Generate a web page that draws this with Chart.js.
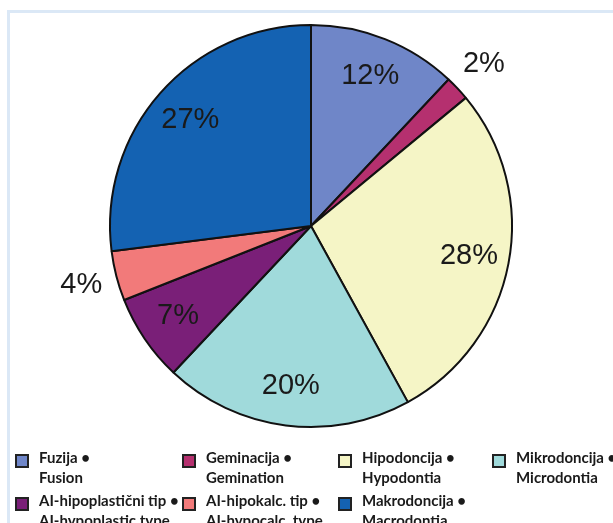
<!DOCTYPE html>
<html>
<head>
<meta charset="utf-8">
<script src="https://cdn.jsdelivr.net/npm/chart.js@4"></script>
<style>
    html, body {
        margin: 0;
        padding: 0;
        background: #ffffff;
        width: 613px;
        height: 523px;
        overflow: hidden;
    }
    .frame {
        position: absolute;
        left: 7px;
        top: 10px;
        width: 700px;
        height: 600px;
        border-left: 3px solid #dbe8f6;
        border-top: 3px solid #dbe8f6;
    }
    #pie-chart {
        position: absolute;
        left: 0;
        top: 0;
    }
    .legend-item {
        position: absolute;
        font-family: Lato, "Open Sans", sans-serif;
        font-weight: bold;
        font-size: 15px;
        line-height: 20px;
        color: #1a1a1a;
        white-space: nowrap;
    }
    .legend-box {
        position: absolute;
        left: 0;
        top: 7px;
        width: 10px;
        height: 10px;
        border: 2px solid #222222;
    }
    .legend-text {
        position: absolute;
        left: 24px;
        top: 0;
    }
</style>
</head>
<body>
<div class="frame"></div>
<canvas id="pie-chart" width="613" height="450"></canvas>
<div id="legend"></div>

<script>
// Chart data
const labelsHr = ['Fuzija', 'Geminacija', 'Hipodoncija', 'Mikrodoncija', 'AI-hipoplastični tip', 'AI-hipokalc. tip', 'Makrodoncija'];
const labelsEn = ['Fusion', 'Gemination', 'Hypodontia', 'Microdontia', 'AI-hypoplastic type', 'AI-hypocalc. type', 'Macrodontia'];
const percentages = [12, 2, 28, 20, 7, 4, 27];
const sliceColors = ['#6f86c8', '#b5306f', '#f5f5c6', '#a0dadb', '#7a1f78', '#f27a7a', '#1462b2'];

// legend grid: 4 columns, 2 rows
const legendCols = [15, 182, 338, 492];
const legendRows = [447, 490];

// Percent labels, small slices get their label outside the pie
const percentLabels = {
    id: 'percentLabels',
    afterDatasetsDraw(chart) {
        const ctx = chart.ctx;
        const meta = chart.getDatasetMeta(0);
        ctx.save();
        ctx.font = '29px "Liberation Sans", Arial, sans-serif';
        ctx.fillStyle = '#1a1a1a';
        ctx.textAlign = 'center';
        ctx.textBaseline = 'middle';
        meta.data.forEach((arc, i) => {
            const p = arc.getProps(['x', 'y', 'startAngle', 'endAngle', 'outerRadius'], true);
            const mid = (p.startAngle + p.endAngle) / 2;
            const frac = percentages[i] < 5 ? 1.18 : 0.8;
            const x = p.x + Math.cos(mid) * p.outerRadius * frac;
            const y = p.y + Math.sin(mid) * p.outerRadius * frac;
            ctx.fillText(percentages[i] + '%', x, y);
        });
        ctx.restore();
    }
};

new Chart(document.getElementById('pie-chart'), {
    type: 'pie',
    data: {
        labels: labelsEn,
        datasets: [{
            data: percentages,
            backgroundColor: sliceColors,
            borderColor: '#111111',
            borderWidth: 2
        }]
    },
    options: {
        responsive: false,
        animation: false,
        layout: {
            padding: { top: 24, bottom: 22, left: 9, right: 0 }
        },
        plugins: {
            legend: { display: false },
            tooltip: { enabled: false }
        }
    },
    plugins: [percentLabels]
});

// HTML legend
const legend = document.getElementById('legend');
labelsHr.forEach((name, i) => {
    const item = document.createElement('div');
    item.className = 'legend-item';
    item.style.left = legendCols[i % 4] + 'px';
    item.style.top = legendRows[Math.floor(i / 4)] + 'px';
    item.innerHTML = '<div class="legend-box" style="background:' + sliceColors[i] + '"></div>' +
        '<div class="legend-text">' + name + ' •<br>' + labelsEn[i] + '</div>';
    legend.appendChild(item);
});
</script>
</body>
</html>
